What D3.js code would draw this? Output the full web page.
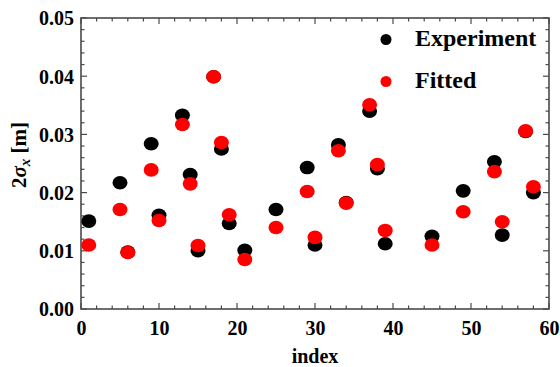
<!DOCTYPE html>
<html><head><meta charset="utf-8">
<script src="https://cdn.jsdelivr.net/npm/d3@7"></script>
<style>body{margin:0;background:#fff}svg{display:block}text{font-family:"Liberation Serif","Times New Roman",serif !important;font-weight:bold}</style>
</head><body><svg id="c" width="560" height="367"></svg>
<script>
const indices    = [1,5,6,9,10,13,14,15,17,18,19,21,25,29,30,33,34,37,38,39,45,49,53,54,57,58];
const experiment = [0.0151,0.0217,0.0098,0.0284,0.0161,0.0333,0.0231,0.0100,0.0399,0.0275,0.0147,0.0101,0.0171,0.0243,0.0110,0.0282,0.0183,0.0340,0.0241,0.0112,0.0125,0.0203,0.0253,0.0127,0.0305,0.0200];
const fitted     = [0.0110,0.0171,0.0097,0.0239,0.0152,0.0317,0.0215,0.0109,0.0399,0.0286,0.0162,0.0085,0.0140,0.0202,0.0123,0.0272,0.0182,0.0351,0.0248,0.0135,0.0110,0.0167,0.0236,0.0150,0.0306,0.0210];
const xTicks = [0,10,20,30,40,50,60];
const yTicks = [0.00,0.01,0.02,0.03,0.04,0.05];
const seriesNames = ["Experiment","Fitted"];
const colors = ["#000000","#ff0000"];

const svg = d3.select("#c");
const L=81,R=549,T=18,B=309;
const x = d3.scaleLinear().domain([0,60]).range([L,R]);
const y = d3.scaleLinear().domain([0,0.05]).range([B,T]);
const axisColor="#4a4a4a";

svg.append("rect").attr("x",L).attr("y",T).attr("width",R-L).attr("height",B-T)
  .attr("fill","none").attr("stroke",axisColor).attr("stroke-width",1.6);

const xMinor = d3.range(0,61,2), yMinor = d3.range(0,0.0501,0.002);
const tg = svg.append("g").attr("stroke",axisColor).attr("stroke-width",1.2);
xMinor.forEach(v=>{
  const major = Math.abs(v%10)<1e-9, len = major?6:3.5;
  tg.append("line").attr("x1",x(v)).attr("x2",x(v)).attr("y1",B).attr("y2",B-len);
  tg.append("line").attr("x1",x(v)).attr("x2",x(v)).attr("y1",T).attr("y2",T+len);
});
yMinor.forEach(v=>{
  const major = Math.abs(Math.round(v*1000)%10)===0, len = major?6:3.5;
  tg.append("line").attr("y1",y(v)).attr("y2",y(v)).attr("x1",L).attr("x2",L+len);
  tg.append("line").attr("y1",y(v)).attr("y2",y(v)).attr("x1",R).attr("x2",R-len);
});

const xa = svg.append("g").attr("transform",`translate(0,${B})`)
  .call(d3.axisBottom(x).tickValues(xTicks).tickSize(0).tickPadding(12).tickFormat(d3.format("d")));
xa.select(".domain").remove();
xa.selectAll("text").attr("font-size",20).attr("fill","#000");
const ya = svg.append("g").attr("transform",`translate(${L},0)`)
  .call(d3.axisLeft(y).tickValues(yTicks).tickSize(0).tickPadding(7).tickFormat(d3.format(".2f")));
ya.select(".domain").remove();
ya.selectAll("text").attr("font-size",20).attr("fill","#000").attr("dy","0.34em");

svg.append("text").attr("x",(L+R)/2).attr("y",363).attr("text-anchor","middle").attr("font-size",20).text("index");
const yl = svg.append("text").attr("transform",`translate(26,155) rotate(-90)`).attr("text-anchor","middle").attr("font-size",21);
yl.append("tspan").text("2");
yl.append("tspan").attr("font-style","italic").text("σ");
yl.append("tspan").attr("font-style","italic").attr("font-size",15).attr("dy",4).text("x");
yl.append("tspan").attr("dy",-4).text(" [m]");

[experiment,fitted].forEach((vals,si)=>{
  svg.append("g").selectAll("ellipse").data(indices.map((d,i)=>[d,vals[i]])).join("ellipse")
    .attr("cx",d=>x(d[0])).attr("cy",d=>y(d[1])).attr("rx",7.5).attr("ry",6.8).attr("fill",colors[si]);
});

seriesNames.forEach((n,i)=>{
  const ly = 39.5 + i*42;
  svg.append("circle").attr("cx",386).attr("cy",ly).attr("r",5.5).attr("fill",colors[i]);
  svg.append("text").attr("x",415).attr("y",ly+6.5).attr("font-size",24).text(n);
});
</script></body></html>
